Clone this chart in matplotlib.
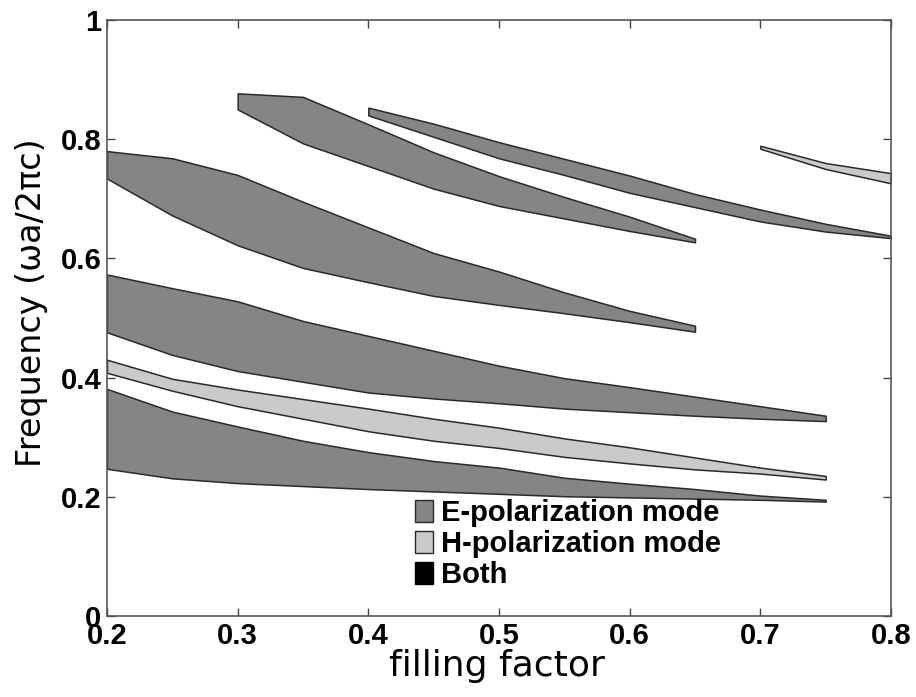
import matplotlib
matplotlib.use("Agg")
import matplotlib.pyplot as plt
from matplotlib.patches import Patch

# ---------------- data ----------------
# E-polarization band 1 (lowest)
e1_x     = [0.20, 0.25, 0.30, 0.35, 0.40, 0.45, 0.50, 0.55, 0.60, 0.65, 0.70, 0.75]
e1_upper = [0.381, 0.343, 0.318, 0.294, 0.275, 0.260, 0.249, 0.232, 0.222, 0.213, 0.202, 0.195]
e1_lower = [0.247, 0.231, 0.223, 0.218, 0.213, 0.209, 0.205, 0.201, 0.199, 0.197, 0.195, 0.192]

# H-polarization band 1
h1_x     = [0.20, 0.25, 0.30, 0.35, 0.40, 0.45, 0.50, 0.55, 0.60, 0.65, 0.70, 0.75]
h1_upper = [0.430, 0.398, 0.380, 0.364, 0.348, 0.331, 0.316, 0.298, 0.283, 0.266, 0.249, 0.235]
h1_lower = [0.408, 0.378, 0.352, 0.331, 0.310, 0.294, 0.282, 0.267, 0.256, 0.246, 0.239, 0.229]

# E-polarization band 2
e2_x     = [0.20, 0.25, 0.30, 0.35, 0.40, 0.45, 0.50, 0.55, 0.60, 0.65, 0.70, 0.75]
e2_upper = [0.573, 0.550, 0.528, 0.495, 0.470, 0.445, 0.420, 0.399, 0.384, 0.368, 0.352, 0.336]
e2_lower = [0.476, 0.438, 0.411, 0.393, 0.375, 0.365, 0.357, 0.348, 0.342, 0.336, 0.331, 0.327]

# E-polarization band 3
e3_x     = [0.20, 0.25, 0.30, 0.35, 0.40, 0.45, 0.50, 0.55, 0.60, 0.65]
e3_upper = [0.780, 0.768, 0.740, 0.695, 0.652, 0.609, 0.578, 0.543, 0.512, 0.487]
e3_lower = [0.734, 0.672, 0.622, 0.584, 0.560, 0.537, 0.522, 0.508, 0.493, 0.477]

# E-polarization band 4
e4_x     = [0.30, 0.35, 0.40, 0.45, 0.50, 0.55, 0.60, 0.65]
e4_upper = [0.877, 0.871, 0.825, 0.778, 0.738, 0.703, 0.670, 0.633]
e4_lower = [0.850, 0.793, 0.755, 0.717, 0.688, 0.667, 0.646, 0.627]

# E-polarization band 5
e5_x     = [0.40, 0.45, 0.50, 0.55, 0.60, 0.65, 0.70, 0.75, 0.80]
e5_upper = [0.853, 0.826, 0.795, 0.767, 0.739, 0.708, 0.682, 0.658, 0.638]
e5_lower = [0.840, 0.804, 0.768, 0.740, 0.710, 0.686, 0.662, 0.645, 0.634]

# H-polarization band 2
h2_x     = [0.70, 0.75, 0.80]
h2_upper = [0.789, 0.760, 0.743]
h2_lower = [0.784, 0.750, 0.726]

x_ticks = [0.2, 0.3, 0.4, 0.5, 0.6, 0.7, 0.8]
x_tick_labels = ["0.2", "0.3", "0.4", "0.5", "0.6", "0.7", "0.8"]
y_ticks = [0, 0.2, 0.4, 0.6, 0.8, 1.0]
y_tick_labels = ["0", "0.2", "0.4", "0.6", "0.8", "1"]

legend_labels = ["E-polarization mode", "H-polarization mode", "Both"]

# ---------------- styling ----------------
E_COLOR = "#858585"
H_COLOR = "#cacaca"
BOTH_COLOR = "#000000"
EDGE = "#2a2a2a"

fig = plt.figure(figsize=(9.16, 6.97), dpi=100)
ax = fig.add_axes([107 / 916, 1 - 616 / 697, (891 - 107) / 916, (616 - 20) / 697])

bands = [
    (e1_x, e1_lower, e1_upper, E_COLOR),
    (h1_x, h1_lower, h1_upper, H_COLOR),
    (e2_x, e2_lower, e2_upper, E_COLOR),
    (e3_x, e3_lower, e3_upper, E_COLOR),
    (e4_x, e4_lower, e4_upper, E_COLOR),
    (e5_x, e5_lower, e5_upper, E_COLOR),
    (h2_x, h2_lower, h2_upper, H_COLOR),
]
for bx, lo, hi, col in bands:
    ax.fill_between(bx, lo, hi, facecolor=col, edgecolor=EDGE, linewidth=1.1)

ax.set_xlim(0.2, 0.8)
ax.set_ylim(0, 1)
ax.set_xticks(x_ticks)
ax.set_xticklabels(x_tick_labels)
ax.set_yticks(y_ticks)
ax.set_yticklabels(y_tick_labels)

for lab in ax.get_xticklabels() + ax.get_yticklabels():
    lab.set_fontfamily(["Liberation Sans", "DejaVu Sans"])
    lab.set_fontweight("bold")
    lab.set_fontsize(21)

ax.tick_params(direction="in", top=True, right=True, length=6, width=1,
               color="#444444", pad=4)
for sp in ax.spines.values():
    sp.set_color("#555555")
    sp.set_linewidth(1.2)

ax.set_xlabel("filling factor", fontsize=26, family="DejaVu Sans", va="top")
ax.xaxis.set_label_coords(0.497, -0.055)
ax.set_ylabel("Frequency (\u03c9a/2\u03c0c)", fontsize=24, family="DejaVu Sans", va="center")
ax.yaxis.set_label_coords(-0.096, 0.525)

handles = [
    Patch(facecolor=E_COLOR, edgecolor=EDGE, linewidth=1),
    Patch(facecolor=H_COLOR, edgecolor=EDGE, linewidth=1),
    Patch(facecolor=BOTH_COLOR, edgecolor=BOTH_COLOR, linewidth=1),
]
leg = ax.legend(handles, legend_labels, loc="upper left",
                bbox_to_anchor=((415 - 107) / 784, (616 - 499) / 596),
                frameon=False, borderpad=0, borderaxespad=0,
                handlelength=0.6, handleheight=0.8, handletextpad=0.3,
                labelspacing=0.1,
                prop=dict(family=["Liberation Sans", "DejaVu Sans"], weight="bold", size=21))

fig.savefig("out.png", dpi=100, facecolor="white")
